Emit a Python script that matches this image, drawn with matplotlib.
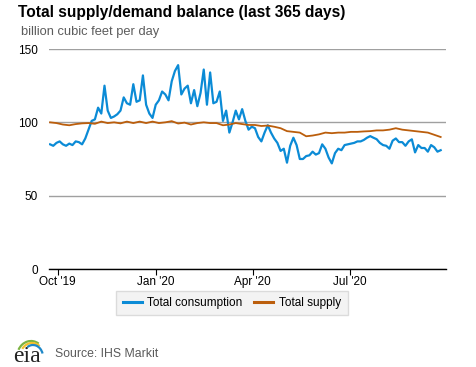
"""Total supply/demand balance (last 365 days), EIA natural gas chart."""

import matplotlib
matplotlib.use("Agg")
import matplotlib.pyplot as plt
from matplotlib.patches import Arc
import pandas as pd

plt.rcParams["font.family"] = ["Liberation Sans", "DejaVu Sans"]

# --- Data (bcf/d) -------------------------------------------------------
START = "2019-09-24"

# total consumption, one reading every 3 days
consumption = [
    85, 84, 86, 87, 85, 84, 85.5, 84.5, 87, 86.5,
    85, 89, 95, 101, 102, 110, 106, 125, 108, 103,
    104, 105.5, 108, 117, 113, 112, 126, 114, 115, 132,
    112, 106, 103, 112, 115, 121, 119, 115, 128, 135,
    139, 119, 123, 125, 113, 122, 111, 120, 136, 112,
    134, 113, 114, 121, 101, 108, 93, 100, 108, 102,
    109, 101, 95, 97, 96, 90, 87, 93, 98, 93,
    89, 86, 80.5, 82, 72.5, 84, 89.5, 84.5, 75, 75,
    77, 77.5, 80, 78, 79, 85, 82, 76, 72, 79,
    82, 81, 84.5, 85, 85.5, 86, 87, 87, 88, 89.5,
    90.6, 89.5, 88.5, 86, 84.5, 84, 82, 87.5, 89, 86.5,
    86.5, 84, 87, 88.4, 79.5, 84.5, 82.5, 82.5, 80, 84.5,
    83, 80, 81,
]

# total supply, one reading every 6 days
supply = [
    100, 99.5, 98.5, 98, 98.8, 99.3, 99.5, 99, 100.5, 99.5,
    100, 99.3, 100.5, 99.5, 100.5, 99.5, 100.5, 99.5, 100, 100.8,
    99.2, 99.8, 98.5, 99.5, 100, 99.5, 99.5, 98, 98.5, 99.5,
    98.8, 98.2, 98.2, 97.5, 97.8, 97, 96, 94, 93.5, 93,
    90.5, 91, 91.8, 93, 92.6, 93, 93, 93.5, 93.5, 93.8,
    94, 94.5, 94.5, 95, 96, 95, 94.5, 94, 93.5, 93,
    91.5, 90,
]

TICK_DATES = ["2019-10-01", "2020-01-01", "2020-04-01", "2020-07-01"]
TICK_LABELS = ["Oct '19", "Jan '20", "Apr '20", "Jul '20"]
Y_TICKS = [0, 50, 100, 150]

BLUE = "#0b8bd6"
BROWN = "#bb5e0c"

W, H = 477, 367
fig = plt.figure(figsize=(W / 100, H / 100), dpi=100)
ax = fig.add_axes([49 / W, 1 - 269 / H, (446 - 49) / W, (269 - 49) / H])

cons_dates = pd.date_range(START, periods=len(consumption), freq="3D")
sup_dates = pd.date_range(START, periods=len(supply), freq="6D")

ax.plot(cons_dates, consumption, color=BLUE, lw=1.6, label="Total consumption", zorder=3)
ax.plot(sup_dates, supply, color=BROWN, lw=1.3, label="Total supply", zorder=4)

ax.set_xlim(pd.Timestamp("2019-09-23"), pd.Timestamp("2020-09-29"))
ax.set_ylim(0, 150)
ax.set_yticks(Y_TICKS)
ax.set_yticklabels([str(v) for v in Y_TICKS])
ax.set_xticks(pd.to_datetime(TICK_DATES))
ax.set_xticklabels(TICK_LABELS)

ax.grid(axis="y", color="#a0a0a0", lw=1.0)
ax.grid(axis="x", visible=False)
ax.set_axisbelow(True)
for side in ("top", "right", "left"):
    ax.spines[side].set_visible(False)
ax.spines["bottom"].set_color("black")
ax.spines["bottom"].set_linewidth(1.0)
ax.spines["bottom"].set_zorder(5)

ax.tick_params(axis="y", length=0, pad=8, labelsize=8.5, labelcolor="black")
ax.tick_params(axis="x", length=4, width=0.8, direction="out", pad=1,
               labelsize=8.5, colors="black")
ax.patch.set_alpha(0)

# titles
fig.text(18 / W, 1 - 13 / H, "Total supply/demand balance (last 365 days)",
         fontsize=11.2, fontweight="bold", ha="left", va="center")
fig.text(21 / W, 1 - 32 / H, "billion cubic feet per day",
         fontsize=9.3, color="#5c5c5c", ha="left", va="center")

# legend
leg = fig.legend(loc="center", bbox_to_anchor=(232 / W, 1 - 303 / H), ncol=2,
                 frameon=True, fontsize=8.5, handlelength=1.6, handletextpad=0.5,
                 columnspacing=1.0, borderpad=0.55, fancybox=False)
leg.get_frame().set_facecolor("#f0f0f0")
leg.get_frame().set_edgecolor("#d4d4d4")
for line in leg.get_lines():
    line.set_linewidth(2.2)

# source line with a rough eia logo
fig.text(55 / W, 1 - 354 / H, "Source: IHS Markit", fontsize=8.8,
         color="#5a5a5a", ha="left", va="center")
logo = fig.add_axes([13 / W, 1 - 365 / H, 32 / W, 28 / H])
logo.set_xlim(0, 32)
logo.set_ylim(0, 28)
logo.axis("off")
logo.text(14, 8, "eia", family=["Liberation Serif", "DejaVu Serif"],
          fontsize=17, ha="center", va="center", color="#222222")
logo.add_patch(Arc((18, 8), 28, 32, theta1=60, theta2=150, color="#7cb342", lw=1.6))
logo.add_patch(Arc((19, 8), 24, 28, theta1=55, theta2=140, color="#f2c12e", lw=1.6))
logo.add_patch(Arc((20, 8), 20, 24, theta1=20, theta2=120, color="#1e88c8", lw=1.6))

fig.savefig("out.png", dpi=100)
